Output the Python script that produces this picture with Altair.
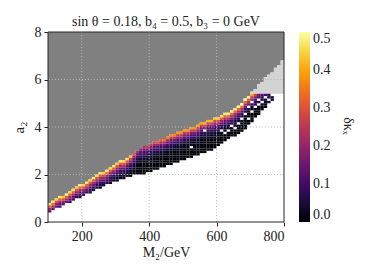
import altair as alt
import pandas as pd

FONT = "Liberation Serif"

# ---- data -------------------------------------------------------------
# heat-map columns (left edge of each 10 GeV wide cell)
M_COLS = list(range(100, 770, 10))
# upper edge of the coloured band in each column (a2)
BAND_TOP = [0.8, 0.9, 1.0, 1.1, 1.1, 1.2, 1.3, 1.4, 1.5, 1.6,
            1.6, 1.7, 1.8, 1.9, 2.0, 2.1, 2.1, 2.2, 2.3, 2.4,
            2.5, 2.6, 2.6, 2.7, 2.8, 2.9, 3.0, 3.1, 3.2, 3.2,
            3.3, 3.4, 3.4, 3.5, 3.5, 3.6, 3.7, 3.7, 3.8, 3.8,
            3.9, 3.9, 4.0, 4.0, 4.1, 4.2, 4.2, 4.3, 4.3, 4.4,
            4.4, 4.5, 4.6, 4.6, 4.7, 4.8, 4.9, 5.0, 5.2, 5.3,
            5.4, 5.4, 5.4, 5.4, 5.4, 5.4, 5.3]
# lower edge of the coloured band in each column (a2)
BAND_BOTTOM = [0.4, 0.5, 0.6, 0.6, 0.7, 0.8, 0.8, 0.9, 1.0, 1.0,
               1.1, 1.2, 1.2, 1.3, 1.4, 1.4, 1.5, 1.6, 1.6, 1.7,
               1.7, 1.8, 1.8, 1.9, 1.9, 2.0, 2.0, 2.0, 2.0, 2.1,
               2.1, 2.2, 2.2, 2.3, 2.3, 2.4, 2.4, 2.5, 2.5, 2.6,
               2.6, 2.7, 2.7, 2.8, 2.8, 2.9, 2.9, 3.0, 3.0, 3.1,
               3.2, 3.3, 3.4, 3.5, 3.6, 3.6, 3.7, 3.8, 3.9, 4.1,
               4.2, 4.4, 4.5, 4.7, 4.8, 5.0, 5.1]
# value of the top cell of each column
PEAK = [0.46, 0.48, 0.44, 0.47, 0.43, 0.48, 0.45, 0.47, 0.44, 0.48,
        0.45, 0.47, 0.44, 0.48, 0.45, 0.47, 0.44, 0.48, 0.45, 0.47,
        0.44, 0.47, 0.45, 0.46, 0.42, 0.30, 0.22, 0.20, 0.22, 0.25,
        0.27, 0.29, 0.30, 0.32, 0.34, 0.35, 0.37, 0.36, 0.38, 0.37,
        0.38, 0.37, 0.39, 0.38, 0.40, 0.39, 0.40, 0.41, 0.42, 0.43,
        0.44, 0.46, 0.47, 0.48, 0.49, 0.48, 0.49, 0.50, 0.50, 0.48,
        0.40, 0.28, 0.16, 0.12, 0.10, 0.08, 0.06]
# fall-off of the colour below the top cell (fraction of the top value)
DEPTH_PROFILE = [1.0, 0.68, 0.46, 0.31, 0.20, 0.13, 0.08, 0.05, 0.03]
DEEP_FRACTION = 0.015
# empty cells inside the band (column, lower edge)
HOLES = [(520, 3.1), (560, 3.8), (610, 3.8), (620, 3.7), (630, 3.8),
         (640, 4.0), (650, 3.9), (660, 4.1), (670, 4.3), (680, 4.5),
         (690, 4.3), (690, 4.8), (700, 4.6), (700, 5.0), (710, 4.8),
         (720, 4.9), (720, 5.1), (730, 5.0), (740, 5.2), (750, 5.1)]
# light-grey region on the right
LG_COLS = [700, 710, 720, 730, 740, 750, 760, 770, 780, 790]
LG_BOTTOM = 5.4
LG_TOP = [5.5, 5.6, 5.8, 5.9, 6.1, 6.2, 6.3, 6.5, 6.6, 6.8]

X_TICKS = [200, 400, 600, 800]
Y_TICKS = [0, 2, 4, 6, 8]
X_GRID = [200, 400, 600]
Y_GRID = [2, 4, 6]
CB_TICKS = [0.0, 0.1, 0.2, 0.3, 0.4, 0.5]

TITLE = "sin θ = 0.18,  b₄ = 0.5,  b₃ = 0  GeV"
X_TITLE = "M₂/GeV"
Y_TITLE = "a₂"
CB_TITLE = "δκₓ"

# ---- tables -------------------------------------------------------------
holes = {(m, round(a, 1)) for m, a in HOLES}
band_rows = []
for m, top, bot, pk in zip(M_COLS, BAND_TOP, BAND_BOTTOM, PEAK):
    n = int(round((top - bot) * 10))
    for j in range(n):
        hi = round(top - j * 0.1, 1)
        lo = round(hi - 0.1, 1)
        if (m, lo) in holes:
            continue
        frac = DEPTH_PROFILE[j] if j < len(DEPTH_PROFILE) else DEEP_FRACTION
        band_rows.append({"x0": m, "x1": m + 10, "y0": lo, "y1": hi, "v": pk * frac})
band_df = pd.DataFrame(band_rows)

# grey (excluded) region: step outline of its lower edge
gx_pts, gy_pts = [], []
for m, top in zip(M_COLS, BAND_TOP):
    if m < LG_COLS[0]:
        gx_pts.append(m)
        gy_pts.append(top)
for m, t in zip(LG_COLS, LG_TOP):
    gx_pts.append(m)
    gy_pts.append(t)
gx_pts.append(800)
gy_pts.append(LG_TOP[-1])
gray_df = pd.DataFrame({"x": gx_pts, "lo": gy_pts, "hi": [8] * len(gx_pts)})

lg_df = pd.DataFrame({"x": LG_COLS + [800], "lo": [LG_BOTTOM] * (len(LG_COLS) + 1),
                      "hi": LG_TOP + [LG_TOP[-1]]})

xs = alt.Scale(domain=[100, 800], nice=False, zero=False)
ys = alt.Scale(domain=[0, 8], nice=False, zero=False)
xax = alt.Axis(values=X_TICKS, title=X_TITLE, grid=False, domain=False,
               tickSize=4, tickColor="#262626", labelFont=FONT, labelFontSize=14,
               labelColor="#222222", labelPadding=3, titleFont=FONT, titleFontSize=14,
               titleFontWeight="normal", titleColor="#222222", titlePadding=2)
yax = alt.Axis(values=Y_TICKS, title=Y_TITLE, grid=False, domain=False,
               tickSize=4, tickColor="#262626", labelFont=FONT, labelFontSize=14,
               labelColor="#222222", labelPadding=3, titleFont=FONT, titleFontSize=15,
               titleFontWeight="normal", titleColor="#222222", titlePadding=8)


def area_layer(df, col):
    return alt.Chart(df).mark_area(color=col, interpolate="step-after", opacity=1).encode(
        x=alt.X("x:Q", scale=xs, axis=xax),
        y=alt.Y("lo:Q", scale=ys, axis=yax), y2="hi:Q")


gray = area_layer(gray_df, "#808080")
light = area_layer(lg_df, "#d3d3d3")
band = alt.Chart(band_df).mark_rect().encode(
    x=alt.X("x0:Q", scale=xs, axis=xax), x2="x1:Q",
    y=alt.Y("y0:Q", scale=ys, axis=yax), y2="y1:Q",
    color=alt.Color("v:Q", scale=alt.Scale(scheme="inferno", domain=[0, 0.5]),
                    legend=alt.Legend(title=None, orient="right", offset=15, padding=0,
                                      gradientLength=190, gradientThickness=11,
                                      gradientStrokeWidth=0, values=CB_TICKS, format=".1f",
                                      labelFont=FONT, labelFontSize=14, labelColor="#222222",
                                      labelOffset=3, labelBaseline="middle")))

gx = alt.Chart(pd.DataFrame({"g": X_GRID})).mark_rule(
    color="#b8b8b8", strokeDash=[1.2, 1.8], strokeWidth=0.8).encode(
    x=alt.X("g:Q", scale=xs, axis=xax))
gy = alt.Chart(pd.DataFrame({"g": Y_GRID})).mark_rule(
    color="#b8b8b8", strokeDash=[1.2, 1.8], strokeWidth=0.8).encode(
    y=alt.Y("g:Q", scale=ys, axis=yax))
fx = alt.Chart(pd.DataFrame({"f": [100, 800]})).mark_rule(
    color="#262626", strokeWidth=1).encode(x=alt.X("f:Q", scale=xs, axis=xax))
fy = alt.Chart(pd.DataFrame({"f": [0, 8]})).mark_rule(
    color="#262626", strokeWidth=1).encode(y=alt.Y("f:Q", scale=ys, axis=yax))

cb_label = alt.Chart(pd.DataFrame({"t": [CB_TITLE]})).mark_text(
    font=FONT, fontSize=14, angle=90, color="#222222", align="center", baseline="middle"
).encode(x=alt.value(300), y=alt.value(94), text="t:N")

chart = alt.layer(gray, light, band, gx, gy, fx, fy, cb_label).properties(
    width=236, height=190,
    title=alt.TitleParams(TITLE, font=FONT, fontSize=14, fontWeight="normal",
                          color="#222222", anchor="middle", offset=4, dy=8),
    autosize=alt.AutoSizeParams(type="none"),
    padding={"left": 40, "top": 24, "right": 82, "bottom": 50},
).configure_view(strokeWidth=0)

chart.save("out.html", embed_options={"renderer": "svg", "actions": False})
